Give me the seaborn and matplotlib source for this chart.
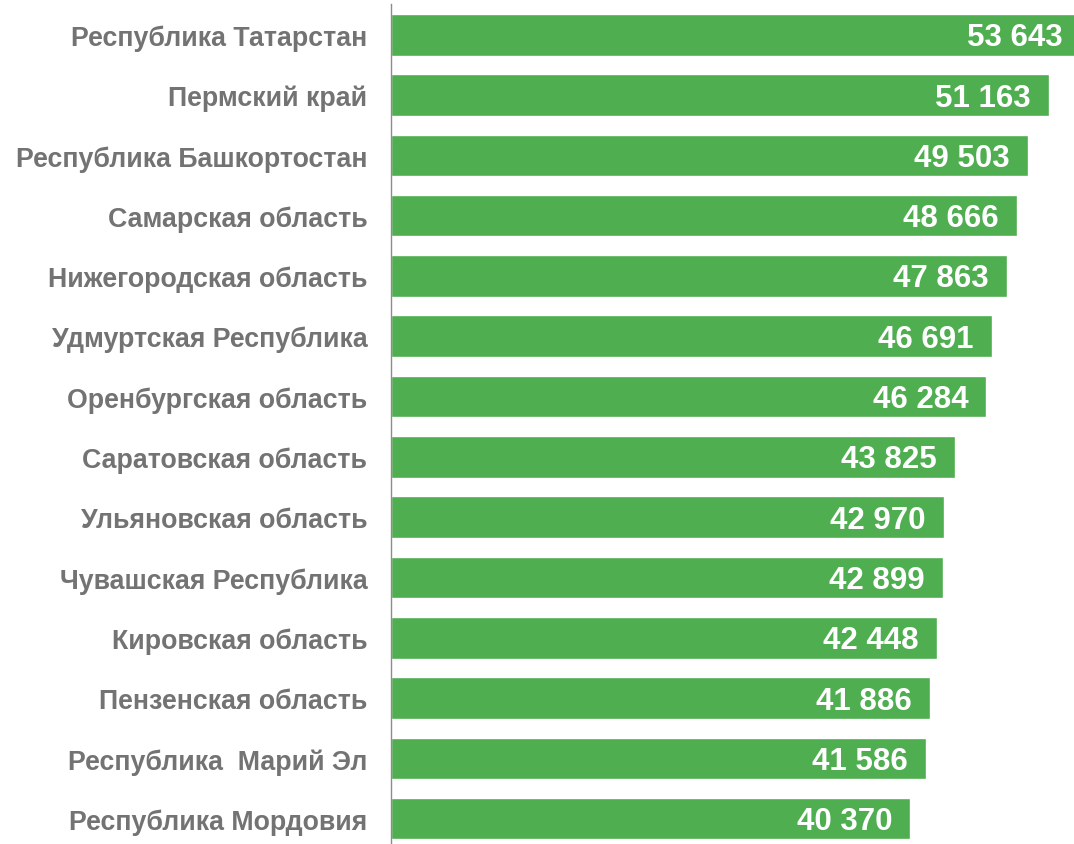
import matplotlib
matplotlib.use("Agg")
import matplotlib.pyplot as plt
import seaborn as sns
import pandas as pd

regions = [
    "Республика Татарстан",
    "Пермский край",
    "Республика Башкортостан",
    "Самарская область",
    "Нижегородская область",
    "Удмуртская Республика",
    "Оренбургская область",
    "Саратовская область",
    "Ульяновская область",
    "Чувашская Республика",
    "Кировская область",
    "Пензенская область",
    "Республика  Марий Эл",
    "Республика Мордовия",
]
values = [53643, 51163, 49503, 48666, 47863, 46691, 46284, 43825, 42970, 42899, 42448, 41886, 41586, 40370]

df = pd.DataFrame({"region": regions, "value": values})

sns.set_theme(style="white")
plt.rcParams["font.family"] = ["Liberation Sans", "DejaVu Sans"]

fig = plt.figure(figsize=(10.74, 8.45), dpi=100)
ax = fig.add_axes([391 / 1074, 0.0, 1 - 391 / 1074, 840 / 845])

sns.barplot(data=df, y="region", x="value", orient="h", color="#4EAE50",
            saturation=1, width=0.69, ax=ax)

ax.set_xlim(0, 53100)
ax.set_ylim(13.42, -0.51)
ax.set_xlabel("")
ax.set_ylabel("")
ax.set_xticks([])
for s in ["top", "right", "bottom"]:
    ax.spines[s].set_visible(False)
ax.spines["left"].set_color("#8C8C8C")
ax.spines["left"].set_linewidth(1.0)
ax.tick_params(axis="y", length=0, pad=17)
for lab in ax.get_yticklabels():
    lab.set_fontsize(19.3)
    lab.set_fontweight("bold")
    lab.set_color("#737373")
    lab.set_family(["Liberation Sans", "DejaVu Sans"])

for i, v in enumerate(values):
    txt = f"{v:,}".replace(",", " ")
    ax.annotate(txt, xy=(v, i), xytext=(-13, -1.8), textcoords="offset points",
                ha="right", va="center", color="white", fontsize=22.5,
                fontweight="bold", family=["Liberation Sans", "DejaVu Sans"],
                annotation_clip=False)

fig.savefig("out.png", dpi=100)
